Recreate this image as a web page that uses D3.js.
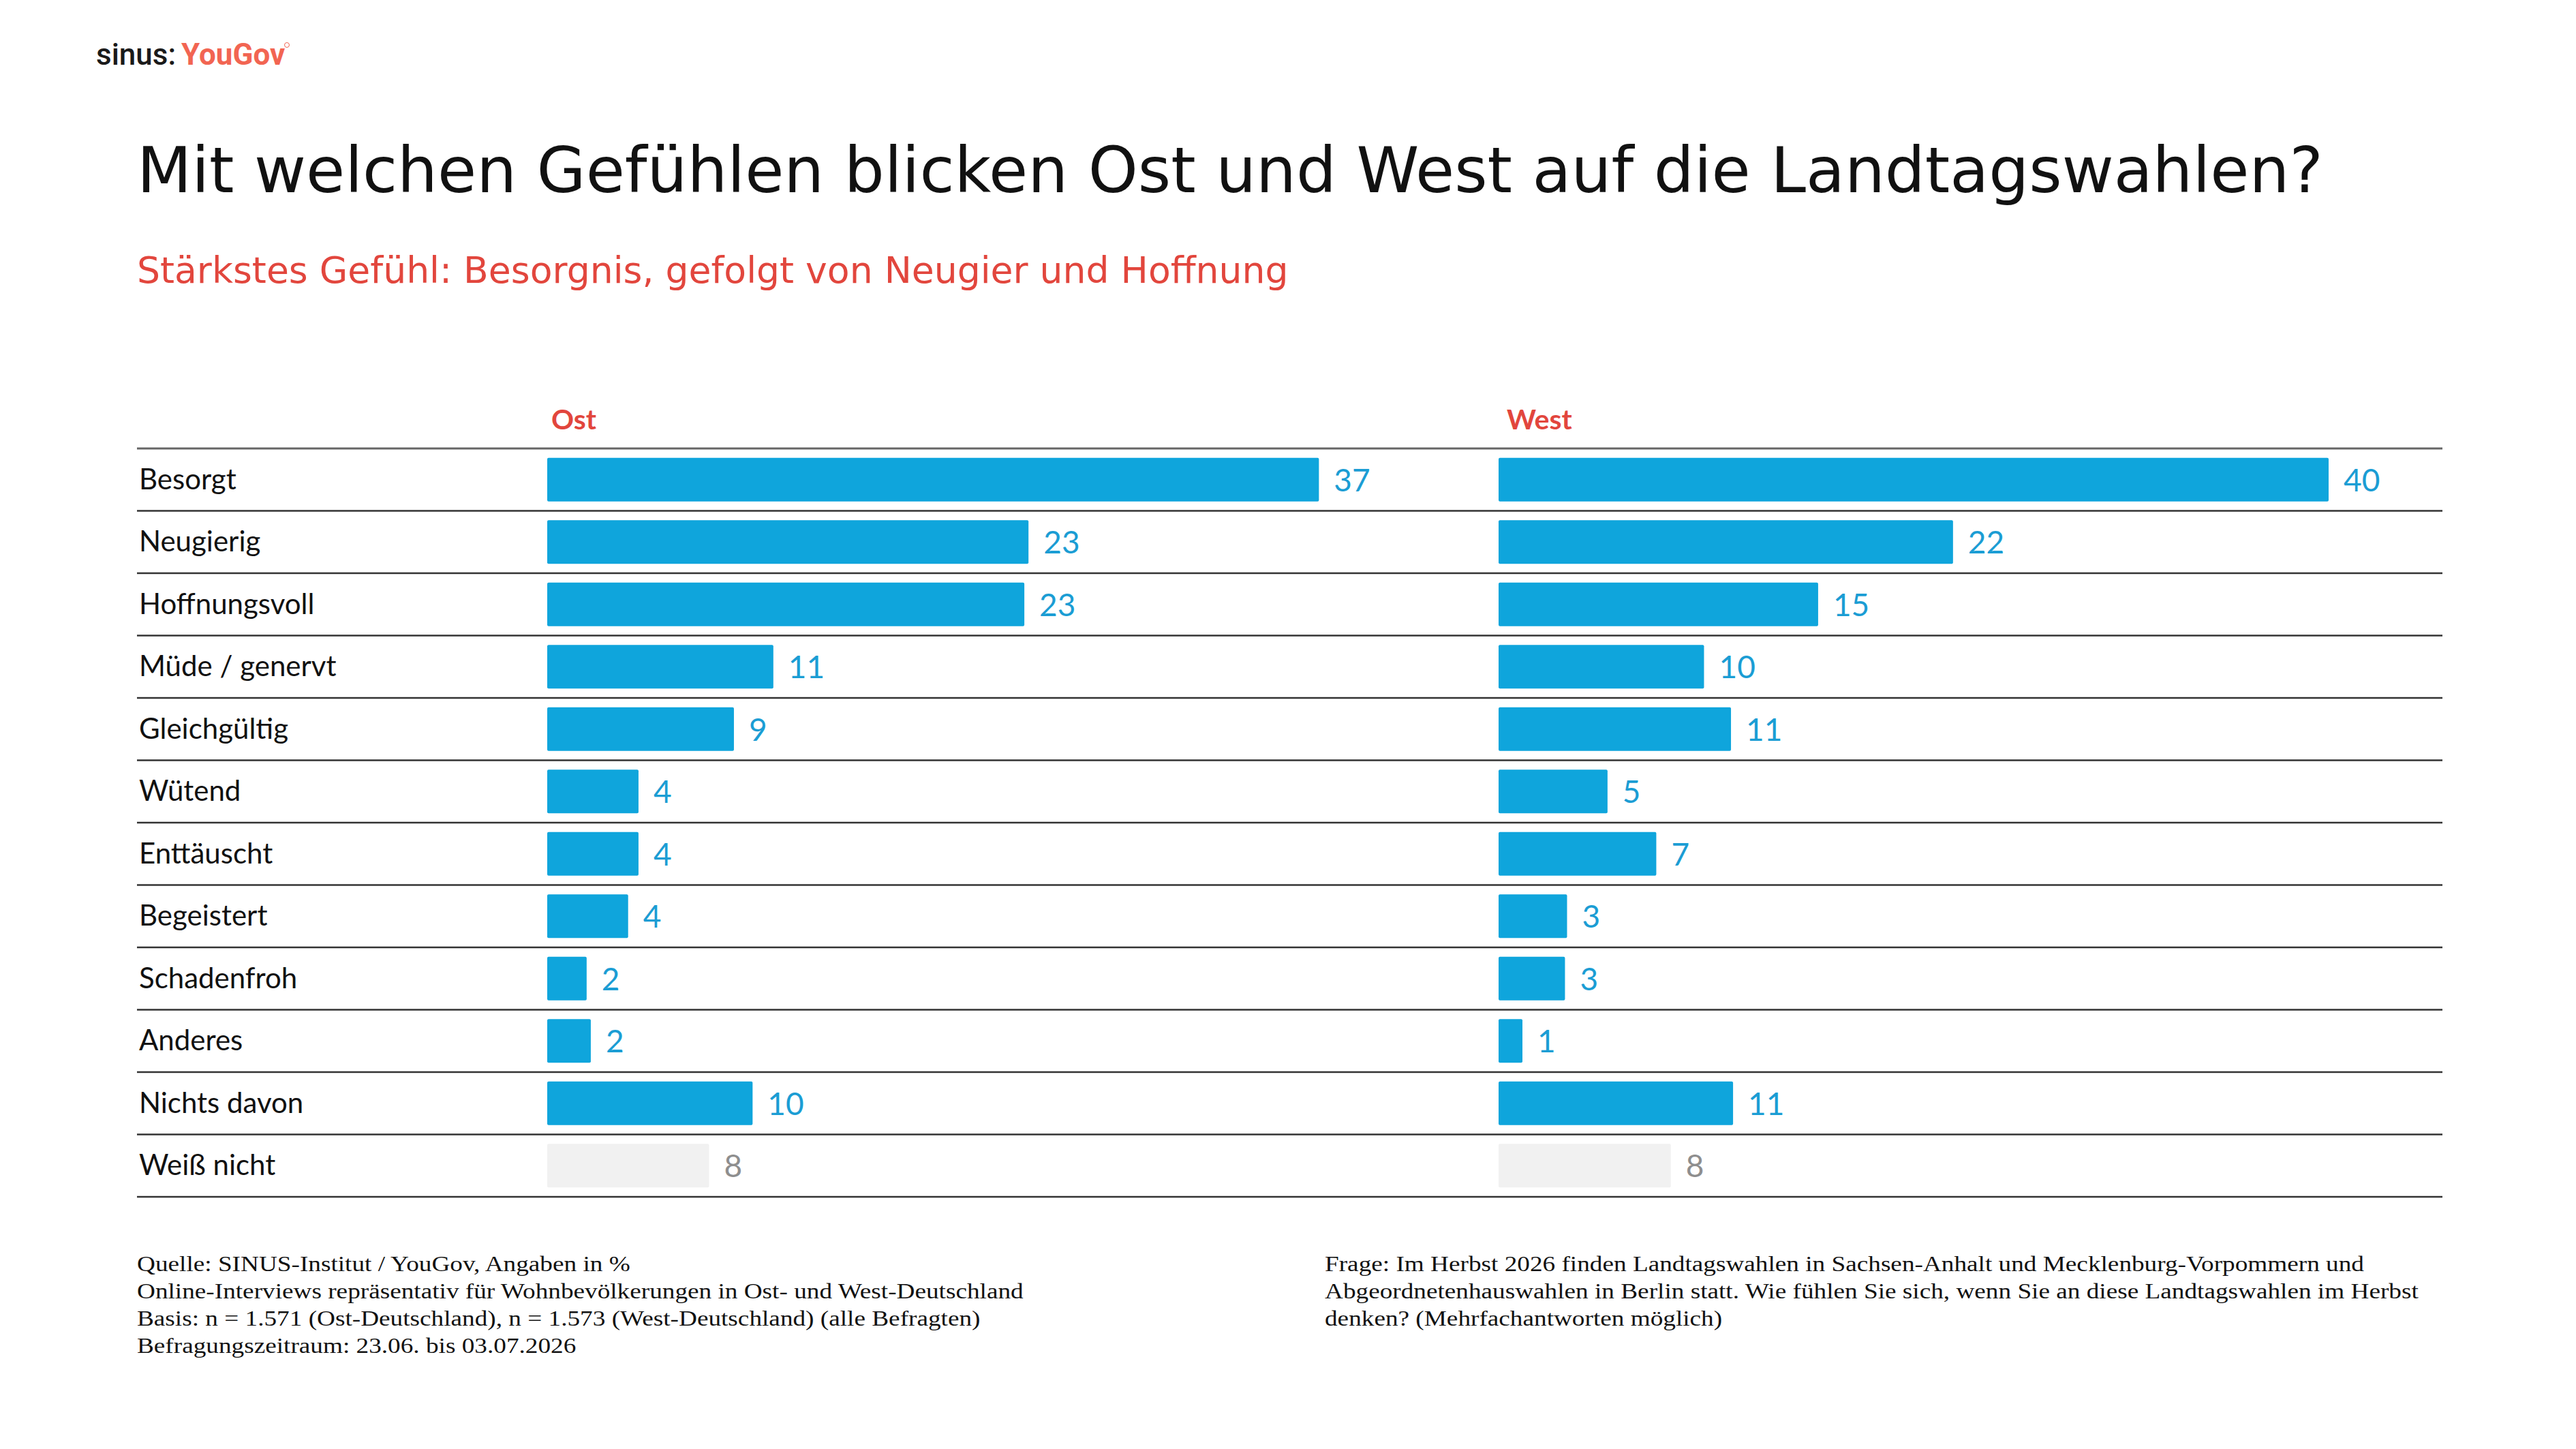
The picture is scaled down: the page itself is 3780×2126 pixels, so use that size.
<html>
<head>
<meta charset="utf-8">
<script src="https://d3js.org/d3.v7.min.js"></script>
<style>
  body { margin: 0; background: #fff; }
  svg { display: block; }
</style>
</head>
<body>
<svg width="3780" height="2126"></svg>
<script>
// data
const categories = ['Besorgt', 'Neugierig', 'Hoffnungsvoll', 'Müde / genervt', 'Gleichgültig', 'Wütend',
                    'Enttäuscht', 'Begeistert', 'Schadenfroh', 'Anderes', 'Nichts davon', 'Weiß nicht'];
// bar lengths (estimated, unrounded)
const ostValues  = [37.2, 23.2, 23.0, 10.9, 9.0, 4.4, 4.4, 3.9, 1.9, 2.1, 9.9, 7.8];
const westValues = [40.0, 21.9, 15.4, 9.9, 11.2, 5.25, 7.6, 3.3, 3.2, 1.15, 11.3, 8.3];
// numbers printed next to the bars
const ostLabels  = [37, 23, 23, 11, 9, 4, 4, 4, 2, 2, 10, 8];
const westLabels = [40, 22, 15, 10, 11, 5, 7, 3, 3, 1, 11, 8];
const groups = ['Ost', 'West'];

const title = 'Mit welchen Gefühlen blicken Ost und West auf die Landtagswahlen?';
const subtitle = 'Stärkstes Gefühl: Besorgnis, gefolgt von Neugier und Hoffnung';
const sourceLines = [
  'Quelle: SINUS-Institut / YouGov, Angaben in %',
  'Online-Interviews repräsentativ für Wohnbevölkerungen in Ost- und West-Deutschland',
  'Basis: n = 1.571 (Ost-Deutschland), n = 1.573 (West-Deutschland) (alle Befragten)',
  'Befragungszeitraum: 23.06. bis 03.07.2026'
];
const questionLines = [
  'Frage: Im Herbst 2026 finden Landtagswahlen in Sachsen-Anhalt und Mecklenburg-Vorpommern und',
  'Abgeordnetenhauswahlen in Berlin statt. Wie fühlen Sie sich, wenn Sie an diese Landtagswahlen im Herbst',
  'denken? (Mehrfachantworten möglich)'
];

const svg = d3.select('svg');
const BLUE = '#0fa5dc', BLUE_TXT = '#1b9dd4', GREY = '#f1f1f1', GREY_TXT = '#8e8e8e', RED = '#e2463d';

// shrink/grow font size so the text gets a given width
function fitWidth(sel, target) {
  const w = sel.node().getComputedTextLength();
  const fs = parseFloat(sel.attr('font-size'));
  sel.attr('font-size', fs * target / w);
}

// logo
const logo = svg.append('text').attr('x', 141).attr('y', 95)
  .attr('font-family', 'Roboto').attr('font-size', 44);
logo.append('tspan').attr('font-weight', 500).attr('fill', '#1a1a1a').text('sinus:');
logo.append('tspan').attr('dx', 8).attr('font-weight', 700).attr('fill', '#f26552').text('YouGov');
svg.append('circle').attr('cx', 421).attr('cy', 66).attr('r', 3.5)
  .attr('fill', 'none').attr('stroke', '#f26552').attr('stroke-width', 1);

// title + subtitle
const t = svg.append('text').attr('x', 201).attr('y', 282)
  .attr('font-family', 'DejaVu Sans').attr('font-size', 94).attr('fill', '#111').text(title);
fitWidth(t, 3208);
const st = svg.append('text').attr('x', 201).attr('y', 415)
  .attr('font-family', 'DejaVu Sans').attr('font-size', 58).attr('fill', RED).text(subtitle);
fitWidth(st, 1690);

// scales
const y = d3.scaleBand().domain(categories).range([658, 1756])
  .paddingInner(0.3).paddingOuter(0.15);
const xOst = d3.scaleLinear().domain([0, 40]).range([803, 803 + 40 * 30.44]);
const xWest = d3.scaleLinear().domain([0, 40]).range([2199, 3417]);

// column headers
svg.selectAll('text.head').data(groups).enter().append('text').attr('class', 'head')
  .attr('x', (d, i) => i == 0 ? xOst(0) + 6 : xWest(0) + 12).attr('y', 630)
  .attr('font-family', 'Lato').attr('font-weight', 700).attr('font-size', 41)
  .attr('fill', RED).text(d => d);

// row lines
const lineYs = [y.range()[0]].concat(categories.map(c => y(c) - y.step() * y.paddingOuter() + y.step()));
svg.selectAll('line.row').data(lineYs).enter().append('line').attr('class', 'row')
  .attr('x1', 201).attr('x2', 3584)
  .attr('y1', d => d).attr('y2', d => d)
  .attr('stroke', (d, i) => i == 0 ? '#666' : '#333')
  .attr('stroke-width', (d, i) => i == 0 ? 3 : 2.5);

// row labels
svg.selectAll('text.cat').data(categories).enter().append('text').attr('class', 'cat')
  .attr('x', 204).attr('y', d => y(d) + y.bandwidth() / 2 + 14)
  .attr('font-family', 'Lato').attr('font-size', 42).attr('fill', '#111').text(d => d);

// bars + value labels
function drawSide(x, values, labels, name) {
  const g = svg.append('g').attr('class', name);
  const last = categories.length - 1;
  g.selectAll('rect').data(values).enter().append('rect')
    .attr('x', x(0)).attr('y', (d, i) => y(categories[i]))
    .attr('width', d => x(d) - x(0)).attr('height', y.bandwidth())
    .attr('rx', 2)
    .attr('fill', (d, i) => i == last ? GREY : BLUE);
  g.selectAll('text').data(labels).enter().append('text')
    .attr('x', (d, i) => x(values[i]) + 22)
    .attr('y', (d, i) => y(categories[i]) + y.bandwidth() / 2 + 17)
    .attr('font-family', 'Lato').attr('font-size', 46)
    .attr('fill', (d, i) => i == last ? GREY_TXT : BLUE_TXT)
    .text(d => d);
}
drawSide(xOst, ostValues, ostLabels, 'ost');
drawSide(xWest, westValues, westLabels, 'west');

// footnotes: serif at fixed size, stretched sideways so the long line gets its width
const FOOT = 31.5;
function footBlock(lines, x0) {
  return svg.append('g').selectAll('text').data(lines).enter().append('text')
    .attr('font-family', 'Liberation Serif').attr('font-size', FOOT).attr('fill', '#111')
    .attr('data-x', x0).text(d => d);
}
const src = footBlock(sourceLines, 201);
const qst = footBlock(questionLines, 1944);
const sx = 1301 / src.nodes()[1].getComputedTextLength();
[src, qst].forEach(sel => sel.attr('transform', function (d, i) {
  return 'translate(' + this.getAttribute('data-x') + ',' + (1865 + i * 40) + ') scale(' + sx + ',1)';
}));
</script>
</body>
</html>
